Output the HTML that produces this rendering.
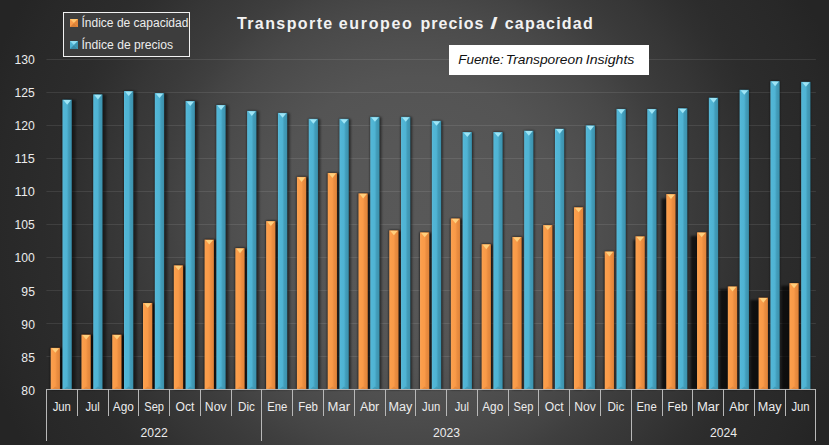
<!DOCTYPE html>
<html lang="es"><head><meta charset="utf-8"><title>Transporte europeo precios / capacidad</title>
<style>
html,body{margin:0;padding:0;background:#262626;}
body{width:829px;height:445px;overflow:hidden;position:relative;font-family:"Liberation Sans",sans-serif;}
#chart{position:absolute;left:0;top:0;width:829px;height:445px;
 background:radial-gradient(circle 450px at 415px 222px, #585858 0.0%, #575757 17.8%, #545454 32.2%, #4f4f4f 40.0%, #494949 47.8%, #444444 52.7%, #3f3f3f 56.7%, #3a3a3a 62.2%, #363636 67.8%, #2f2f2f 75.6%, #2c2c2c 80.0%, #282828 93.3%, #252525 100.0%);}
svg{position:absolute;left:0;top:0;}
svg text{font-family:"Liberation Sans",sans-serif;}
</style></head><body><div id="chart">

<svg width="829" height="445" viewBox="0 0 829 445">
<defs>
<linearGradient id="go" x1="0" x2="1" y1="0" y2="0">
 <stop offset="0" stop-color="#f7a45a"/><stop offset="0.12" stop-color="#fb9e4b"/><stop offset="0.48" stop-color="#f99a48"/><stop offset="0.68" stop-color="#ea8d40"/><stop offset="0.92" stop-color="#e2863b"/><stop offset="1" stop-color="#b86a2c"/>
</linearGradient>
<linearGradient id="gb" x1="0" x2="1" y1="0" y2="0">
 <stop offset="0" stop-color="#5fbddb"/><stop offset="0.12" stop-color="#52b6d6"/><stop offset="0.48" stop-color="#4fb3d3"/><stop offset="0.68" stop-color="#429cb9"/><stop offset="0.92" stop-color="#3d94b0"/><stop offset="1" stop-color="#2f7389"/>
</linearGradient>
<filter id="sh" x="-5%" y="-5%" width="110%" height="110%"><feGaussianBlur stdDeviation="0.9"/></filter>
<filter id="sh2" x="-5%" y="-5%" width="110%" height="110%"><feGaussianBlur stdDeviation="0.8"/></filter>
</defs>
<line x1="46.4" x2="815.9" y1="356.5" y2="356.5" stroke="#ffffff" stroke-opacity="0.095" stroke-width="1"/>
<line x1="46.4" x2="815.9" y1="323.5" y2="323.5" stroke="#ffffff" stroke-opacity="0.095" stroke-width="1"/>
<line x1="46.4" x2="815.9" y1="290.5" y2="290.5" stroke="#ffffff" stroke-opacity="0.095" stroke-width="1"/>
<line x1="46.4" x2="815.9" y1="257.5" y2="257.5" stroke="#ffffff" stroke-opacity="0.095" stroke-width="1"/>
<line x1="46.4" x2="815.9" y1="224.5" y2="224.5" stroke="#ffffff" stroke-opacity="0.095" stroke-width="1"/>
<line x1="46.4" x2="815.9" y1="191.5" y2="191.5" stroke="#ffffff" stroke-opacity="0.095" stroke-width="1"/>
<line x1="46.4" x2="815.9" y1="158.5" y2="158.5" stroke="#ffffff" stroke-opacity="0.095" stroke-width="1"/>
<line x1="46.4" x2="815.9" y1="125.5" y2="125.5" stroke="#ffffff" stroke-opacity="0.095" stroke-width="1"/>
<line x1="46.4" x2="815.9" y1="92.5" y2="92.5" stroke="#ffffff" stroke-opacity="0.095" stroke-width="1"/>
<line x1="46.4" x2="815.9" y1="59.5" y2="59.5" stroke="#ffffff" stroke-opacity="0.095" stroke-width="1"/>
<g filter="url(#sh2)" fill="#000" fill-opacity="0.4">
<rect x="50.35" y="347.32" width="10.00" height="42.08"/>
<rect x="81.13" y="334.12" width="10.00" height="55.28"/>
<rect x="111.91" y="334.12" width="10.00" height="55.28"/>
<rect x="142.69" y="302.44" width="10.00" height="86.96"/>
<rect x="173.47" y="264.82" width="10.00" height="124.58"/>
<rect x="204.25" y="239.08" width="10.00" height="150.32"/>
<rect x="235.03" y="247.66" width="10.00" height="141.74"/>
<rect x="265.81" y="220.60" width="10.00" height="168.80"/>
<rect x="296.59" y="176.38" width="10.00" height="213.02"/>
<rect x="327.37" y="172.42" width="10.00" height="216.98"/>
<rect x="358.15" y="192.88" width="10.00" height="196.52"/>
<rect x="388.93" y="229.84" width="10.00" height="159.56"/>
<rect x="419.71" y="231.82" width="10.00" height="157.58"/>
<rect x="450.49" y="217.96" width="10.00" height="171.44"/>
<rect x="481.27" y="243.70" width="10.00" height="145.70"/>
<rect x="512.05" y="236.44" width="10.00" height="152.96"/>
<rect x="542.83" y="224.56" width="10.00" height="164.84"/>
<rect x="573.61" y="206.74" width="10.00" height="182.66"/>
<rect x="604.39" y="250.96" width="10.00" height="138.44"/>
<rect x="635.17" y="235.78" width="10.00" height="153.62"/>
<rect x="665.95" y="193.54" width="10.00" height="195.86"/>
<rect x="696.73" y="231.82" width="10.00" height="157.58"/>
<rect x="727.51" y="285.94" width="10.00" height="103.46"/>
<rect x="758.29" y="297.16" width="10.00" height="92.24"/>
<rect x="789.07" y="282.64" width="10.00" height="106.76"/>
</g>
<g filter="url(#sh)" fill="#000" fill-opacity="0.68">
<rect x="50.65" y="348.12" width="13.20" height="41.28"/>
<rect x="81.43" y="334.92" width="13.10" height="54.48"/>
<rect x="112.21" y="334.92" width="12.97" height="54.48"/>
<rect x="142.99" y="303.24" width="12.85" height="86.16"/>
<rect x="173.77" y="265.62" width="12.73" height="123.78"/>
<rect x="204.55" y="239.88" width="12.60" height="149.52"/>
<rect x="235.33" y="248.46" width="12.48" height="140.94"/>
<rect x="266.11" y="221.40" width="12.36" height="168.00"/>
<rect x="296.89" y="177.18" width="12.23" height="212.22"/>
<rect x="327.67" y="173.22" width="12.11" height="216.18"/>
<rect x="358.45" y="193.68" width="11.99" height="195.72"/>
<rect x="389.23" y="230.64" width="11.86" height="158.76"/>
<rect x="420.01" y="232.62" width="11.69" height="156.78"/>
<rect x="450.79" y="218.76" width="11.48" height="170.64"/>
<rect x="481.57" y="244.50" width="11.14" height="144.90"/>
<rect x="512.35" y="237.24" width="10.36" height="152.16"/>
<rect x="543.13" y="225.36" width="9.59" height="164.04"/>
<rect x="573.91" y="207.54" width="8.74" height="181.86"/>
<rect x="604.28" y="254.72" width="9.81" height="134.68"/>
<rect x="633.37" y="239.84" width="11.50" height="149.56"/>
<rect x="661.36" y="198.45" width="14.29" height="190.95"/>
<rect x="690.62" y="235.96" width="15.81" height="153.44"/>
<rect x="719.64" y="289.00" width="17.57" height="100.40"/>
<rect x="750.39" y="299.99" width="17.60" height="89.41"/>
<rect x="781.17" y="285.77" width="17.60" height="103.63"/>
</g>
<g filter="url(#sh2)" fill="#000" fill-opacity="0.28">
<rect x="62.15" y="99.16" width="10.00" height="290.24"/>
<rect x="92.93" y="93.88" width="10.00" height="295.52"/>
<rect x="123.71" y="90.58" width="10.00" height="298.82"/>
<rect x="154.49" y="92.56" width="10.00" height="296.84"/>
<rect x="185.27" y="100.48" width="10.00" height="288.92"/>
<rect x="216.05" y="104.44" width="10.00" height="284.96"/>
<rect x="246.83" y="110.38" width="10.00" height="279.02"/>
<rect x="277.61" y="112.36" width="10.00" height="277.04"/>
<rect x="308.39" y="118.30" width="10.00" height="271.10"/>
<rect x="339.17" y="118.30" width="10.00" height="271.10"/>
<rect x="369.95" y="116.32" width="10.00" height="273.08"/>
<rect x="400.73" y="116.32" width="10.00" height="273.08"/>
<rect x="431.51" y="120.28" width="10.00" height="269.12"/>
<rect x="462.29" y="131.50" width="10.00" height="257.90"/>
<rect x="493.07" y="131.50" width="10.00" height="257.90"/>
<rect x="523.85" y="130.18" width="10.00" height="259.22"/>
<rect x="554.63" y="128.20" width="10.00" height="261.20"/>
<rect x="585.41" y="124.90" width="10.00" height="264.50"/>
<rect x="616.19" y="108.40" width="10.00" height="281.00"/>
<rect x="646.97" y="108.40" width="10.00" height="281.00"/>
<rect x="677.75" y="107.74" width="10.00" height="281.66"/>
<rect x="708.53" y="97.18" width="10.00" height="292.22"/>
<rect x="739.31" y="89.26" width="10.00" height="300.14"/>
<rect x="770.09" y="80.68" width="10.00" height="308.72"/>
<rect x="800.87" y="81.34" width="10.00" height="308.06"/>
</g>
<g filter="url(#sh)" fill="#000" fill-opacity="0.42">
<rect x="62.45" y="99.96" width="13.30" height="289.44"/>
<rect x="93.23" y="94.68" width="13.11" height="294.72"/>
<rect x="124.01" y="91.38" width="12.92" height="298.02"/>
<rect x="154.79" y="93.36" width="12.73" height="296.04"/>
<rect x="185.57" y="101.28" width="12.54" height="288.12"/>
<rect x="216.35" y="105.24" width="12.34" height="284.16"/>
<rect x="247.13" y="111.18" width="12.15" height="278.22"/>
<rect x="277.91" y="113.16" width="11.96" height="276.24"/>
<rect x="308.69" y="119.10" width="11.77" height="270.30"/>
<rect x="339.47" y="119.10" width="11.58" height="270.30"/>
<rect x="370.25" y="117.12" width="11.39" height="272.28"/>
<rect x="401.03" y="117.12" width="11.20" height="272.28"/>
<rect x="431.81" y="121.08" width="11.01" height="268.32"/>
<rect x="462.59" y="132.30" width="10.82" height="257.10"/>
<rect x="493.37" y="132.30" width="10.63" height="257.10"/>
<rect x="524.15" y="130.98" width="10.44" height="258.42"/>
<rect x="554.93" y="129.00" width="10.25" height="260.40"/>
<rect x="585.71" y="125.70" width="10.05" height="263.70"/>
<rect x="616.49" y="109.20" width="9.86" height="280.20"/>
<rect x="647.27" y="109.20" width="9.67" height="280.20"/>
<rect x="678.05" y="108.54" width="9.48" height="280.86"/>
<rect x="708.83" y="97.98" width="9.29" height="291.42"/>
<rect x="739.61" y="90.06" width="9.10" height="299.34"/>
<rect x="770.39" y="81.48" width="8.91" height="307.92"/>
<rect x="801.17" y="82.14" width="8.72" height="307.26"/>
</g>
<rect x="50.65" y="347.82" width="9.40" height="41.58" fill="url(#go)"/>
<path d="M51.55 348.22 L59.15 348.22 L55.35 352.82 Z" fill="#ffcf7c"/>
<path d="M51.85 389.40 L58.85 389.40 L55.35 386.60 Z" fill="#d87f36" fill-opacity="0.55"/>
<rect x="62.45" y="99.66" width="9.40" height="289.74" fill="url(#gb)"/>
<path d="M63.35 100.06 L70.95 100.06 L67.15 104.66 Z" fill="#9ee5f6"/>
<path d="M63.65 389.40 L70.65 389.40 L67.15 386.60 Z" fill="#3a8ba6" fill-opacity="0.55"/>
<rect x="81.43" y="334.62" width="9.40" height="54.78" fill="url(#go)"/>
<path d="M82.33 335.02 L89.93 335.02 L86.13 339.62 Z" fill="#ffcf7c"/>
<path d="M82.63 389.40 L89.63 389.40 L86.13 386.60 Z" fill="#d87f36" fill-opacity="0.55"/>
<rect x="93.23" y="94.38" width="9.40" height="295.02" fill="url(#gb)"/>
<path d="M94.13 94.78 L101.73 94.78 L97.93 99.38 Z" fill="#9ee5f6"/>
<path d="M94.43 389.40 L101.43 389.40 L97.93 386.60 Z" fill="#3a8ba6" fill-opacity="0.55"/>
<rect x="112.21" y="334.62" width="9.40" height="54.78" fill="url(#go)"/>
<path d="M113.11 335.02 L120.71 335.02 L116.91 339.62 Z" fill="#ffcf7c"/>
<path d="M113.41 389.40 L120.41 389.40 L116.91 386.60 Z" fill="#d87f36" fill-opacity="0.55"/>
<rect x="124.01" y="91.08" width="9.40" height="298.32" fill="url(#gb)"/>
<path d="M124.91 91.48 L132.51 91.48 L128.71 96.08 Z" fill="#9ee5f6"/>
<path d="M125.21 389.40 L132.21 389.40 L128.71 386.60 Z" fill="#3a8ba6" fill-opacity="0.55"/>
<rect x="142.99" y="302.94" width="9.40" height="86.46" fill="url(#go)"/>
<path d="M143.89 303.34 L151.49 303.34 L147.69 307.94 Z" fill="#ffcf7c"/>
<path d="M144.19 389.40 L151.19 389.40 L147.69 386.60 Z" fill="#d87f36" fill-opacity="0.55"/>
<rect x="154.79" y="93.06" width="9.40" height="296.34" fill="url(#gb)"/>
<path d="M155.69 93.46 L163.29 93.46 L159.49 98.06 Z" fill="#9ee5f6"/>
<path d="M155.99 389.40 L162.99 389.40 L159.49 386.60 Z" fill="#3a8ba6" fill-opacity="0.55"/>
<rect x="173.77" y="265.32" width="9.40" height="124.08" fill="url(#go)"/>
<path d="M174.67 265.72 L182.27 265.72 L178.47 270.32 Z" fill="#ffcf7c"/>
<path d="M174.97 389.40 L181.97 389.40 L178.47 386.60 Z" fill="#d87f36" fill-opacity="0.55"/>
<rect x="185.57" y="100.98" width="9.40" height="288.42" fill="url(#gb)"/>
<path d="M186.47 101.38 L194.07 101.38 L190.27 105.98 Z" fill="#9ee5f6"/>
<path d="M186.77 389.40 L193.77 389.40 L190.27 386.60 Z" fill="#3a8ba6" fill-opacity="0.55"/>
<rect x="204.55" y="239.58" width="9.40" height="149.82" fill="url(#go)"/>
<path d="M205.45 239.98 L213.05 239.98 L209.25 244.58 Z" fill="#ffcf7c"/>
<path d="M205.75 389.40 L212.75 389.40 L209.25 386.60 Z" fill="#d87f36" fill-opacity="0.55"/>
<rect x="216.35" y="104.94" width="9.40" height="284.46" fill="url(#gb)"/>
<path d="M217.25 105.34 L224.85 105.34 L221.05 109.94 Z" fill="#9ee5f6"/>
<path d="M217.55 389.40 L224.55 389.40 L221.05 386.60 Z" fill="#3a8ba6" fill-opacity="0.55"/>
<rect x="235.33" y="248.16" width="9.40" height="141.24" fill="url(#go)"/>
<path d="M236.23 248.56 L243.83 248.56 L240.03 253.16 Z" fill="#ffcf7c"/>
<path d="M236.53 389.40 L243.53 389.40 L240.03 386.60 Z" fill="#d87f36" fill-opacity="0.55"/>
<rect x="247.13" y="110.88" width="9.40" height="278.52" fill="url(#gb)"/>
<path d="M248.03 111.28 L255.63 111.28 L251.83 115.88 Z" fill="#9ee5f6"/>
<path d="M248.33 389.40 L255.33 389.40 L251.83 386.60 Z" fill="#3a8ba6" fill-opacity="0.55"/>
<rect x="266.11" y="221.10" width="9.40" height="168.30" fill="url(#go)"/>
<path d="M267.01 221.50 L274.61 221.50 L270.81 226.10 Z" fill="#ffcf7c"/>
<path d="M267.31 389.40 L274.31 389.40 L270.81 386.60 Z" fill="#d87f36" fill-opacity="0.55"/>
<rect x="277.91" y="112.86" width="9.40" height="276.54" fill="url(#gb)"/>
<path d="M278.81 113.26 L286.41 113.26 L282.61 117.86 Z" fill="#9ee5f6"/>
<path d="M279.11 389.40 L286.11 389.40 L282.61 386.60 Z" fill="#3a8ba6" fill-opacity="0.55"/>
<rect x="296.89" y="176.88" width="9.40" height="212.52" fill="url(#go)"/>
<path d="M297.79 177.28 L305.39 177.28 L301.59 181.88 Z" fill="#ffcf7c"/>
<path d="M298.09 389.40 L305.09 389.40 L301.59 386.60 Z" fill="#d87f36" fill-opacity="0.55"/>
<rect x="308.69" y="118.80" width="9.40" height="270.60" fill="url(#gb)"/>
<path d="M309.59 119.20 L317.19 119.20 L313.39 123.80 Z" fill="#9ee5f6"/>
<path d="M309.89 389.40 L316.89 389.40 L313.39 386.60 Z" fill="#3a8ba6" fill-opacity="0.55"/>
<rect x="327.67" y="172.92" width="9.40" height="216.48" fill="url(#go)"/>
<path d="M328.57 173.32 L336.17 173.32 L332.37 177.92 Z" fill="#ffcf7c"/>
<path d="M328.87 389.40 L335.87 389.40 L332.37 386.60 Z" fill="#d87f36" fill-opacity="0.55"/>
<rect x="339.47" y="118.80" width="9.40" height="270.60" fill="url(#gb)"/>
<path d="M340.37 119.20 L347.97 119.20 L344.17 123.80 Z" fill="#9ee5f6"/>
<path d="M340.67 389.40 L347.67 389.40 L344.17 386.60 Z" fill="#3a8ba6" fill-opacity="0.55"/>
<rect x="358.45" y="193.38" width="9.40" height="196.02" fill="url(#go)"/>
<path d="M359.35 193.78 L366.95 193.78 L363.15 198.38 Z" fill="#ffcf7c"/>
<path d="M359.65 389.40 L366.65 389.40 L363.15 386.60 Z" fill="#d87f36" fill-opacity="0.55"/>
<rect x="370.25" y="116.82" width="9.40" height="272.58" fill="url(#gb)"/>
<path d="M371.15 117.22 L378.75 117.22 L374.95 121.82 Z" fill="#9ee5f6"/>
<path d="M371.45 389.40 L378.45 389.40 L374.95 386.60 Z" fill="#3a8ba6" fill-opacity="0.55"/>
<rect x="389.23" y="230.34" width="9.40" height="159.06" fill="url(#go)"/>
<path d="M390.13 230.74 L397.73 230.74 L393.93 235.34 Z" fill="#ffcf7c"/>
<path d="M390.43 389.40 L397.43 389.40 L393.93 386.60 Z" fill="#d87f36" fill-opacity="0.55"/>
<rect x="401.03" y="116.82" width="9.40" height="272.58" fill="url(#gb)"/>
<path d="M401.93 117.22 L409.53 117.22 L405.73 121.82 Z" fill="#9ee5f6"/>
<path d="M402.23 389.40 L409.23 389.40 L405.73 386.60 Z" fill="#3a8ba6" fill-opacity="0.55"/>
<rect x="420.01" y="232.32" width="9.40" height="157.08" fill="url(#go)"/>
<path d="M420.91 232.72 L428.51 232.72 L424.71 237.32 Z" fill="#ffcf7c"/>
<path d="M421.21 389.40 L428.21 389.40 L424.71 386.60 Z" fill="#d87f36" fill-opacity="0.55"/>
<rect x="431.81" y="120.78" width="9.40" height="268.62" fill="url(#gb)"/>
<path d="M432.71 121.18 L440.31 121.18 L436.51 125.78 Z" fill="#9ee5f6"/>
<path d="M433.01 389.40 L440.01 389.40 L436.51 386.60 Z" fill="#3a8ba6" fill-opacity="0.55"/>
<rect x="450.79" y="218.46" width="9.40" height="170.94" fill="url(#go)"/>
<path d="M451.69 218.86 L459.29 218.86 L455.49 223.46 Z" fill="#ffcf7c"/>
<path d="M451.99 389.40 L458.99 389.40 L455.49 386.60 Z" fill="#d87f36" fill-opacity="0.55"/>
<rect x="462.59" y="132.00" width="9.40" height="257.40" fill="url(#gb)"/>
<path d="M463.49 132.40 L471.09 132.40 L467.29 137.00 Z" fill="#9ee5f6"/>
<path d="M463.79 389.40 L470.79 389.40 L467.29 386.60 Z" fill="#3a8ba6" fill-opacity="0.55"/>
<rect x="481.57" y="244.20" width="9.40" height="145.20" fill="url(#go)"/>
<path d="M482.47 244.60 L490.07 244.60 L486.27 249.20 Z" fill="#ffcf7c"/>
<path d="M482.77 389.40 L489.77 389.40 L486.27 386.60 Z" fill="#d87f36" fill-opacity="0.55"/>
<rect x="493.37" y="132.00" width="9.40" height="257.40" fill="url(#gb)"/>
<path d="M494.27 132.40 L501.87 132.40 L498.07 137.00 Z" fill="#9ee5f6"/>
<path d="M494.57 389.40 L501.57 389.40 L498.07 386.60 Z" fill="#3a8ba6" fill-opacity="0.55"/>
<rect x="512.35" y="236.94" width="9.40" height="152.46" fill="url(#go)"/>
<path d="M513.25 237.34 L520.85 237.34 L517.05 241.94 Z" fill="#ffcf7c"/>
<path d="M513.55 389.40 L520.55 389.40 L517.05 386.60 Z" fill="#d87f36" fill-opacity="0.55"/>
<rect x="524.15" y="130.68" width="9.40" height="258.72" fill="url(#gb)"/>
<path d="M525.05 131.08 L532.65 131.08 L528.85 135.68 Z" fill="#9ee5f6"/>
<path d="M525.35 389.40 L532.35 389.40 L528.85 386.60 Z" fill="#3a8ba6" fill-opacity="0.55"/>
<rect x="543.13" y="225.06" width="9.40" height="164.34" fill="url(#go)"/>
<path d="M544.03 225.46 L551.63 225.46 L547.83 230.06 Z" fill="#ffcf7c"/>
<path d="M544.33 389.40 L551.33 389.40 L547.83 386.60 Z" fill="#d87f36" fill-opacity="0.55"/>
<rect x="554.93" y="128.70" width="9.40" height="260.70" fill="url(#gb)"/>
<path d="M555.83 129.10 L563.43 129.10 L559.63 133.70 Z" fill="#9ee5f6"/>
<path d="M556.13 389.40 L563.13 389.40 L559.63 386.60 Z" fill="#3a8ba6" fill-opacity="0.55"/>
<rect x="573.91" y="207.24" width="9.40" height="182.16" fill="url(#go)"/>
<path d="M574.81 207.64 L582.41 207.64 L578.61 212.24 Z" fill="#ffcf7c"/>
<path d="M575.11 389.40 L582.11 389.40 L578.61 386.60 Z" fill="#d87f36" fill-opacity="0.55"/>
<rect x="585.71" y="125.40" width="9.40" height="264.00" fill="url(#gb)"/>
<path d="M586.61 125.80 L594.21 125.80 L590.41 130.40 Z" fill="#9ee5f6"/>
<path d="M586.91 389.40 L593.91 389.40 L590.41 386.60 Z" fill="#3a8ba6" fill-opacity="0.55"/>
<rect x="604.69" y="251.46" width="9.40" height="137.94" fill="url(#go)"/>
<path d="M605.59 251.86 L613.19 251.86 L609.39 256.46 Z" fill="#ffcf7c"/>
<path d="M605.89 389.40 L612.89 389.40 L609.39 386.60 Z" fill="#d87f36" fill-opacity="0.55"/>
<rect x="616.49" y="108.90" width="9.40" height="280.50" fill="url(#gb)"/>
<path d="M617.39 109.30 L624.99 109.30 L621.19 113.90 Z" fill="#9ee5f6"/>
<path d="M617.69 389.40 L624.69 389.40 L621.19 386.60 Z" fill="#3a8ba6" fill-opacity="0.55"/>
<rect x="635.47" y="236.28" width="9.40" height="153.12" fill="url(#go)"/>
<path d="M636.37 236.68 L643.97 236.68 L640.17 241.28 Z" fill="#ffcf7c"/>
<path d="M636.67 389.40 L643.67 389.40 L640.17 386.60 Z" fill="#d87f36" fill-opacity="0.55"/>
<rect x="647.27" y="108.90" width="9.40" height="280.50" fill="url(#gb)"/>
<path d="M648.17 109.30 L655.77 109.30 L651.97 113.90 Z" fill="#9ee5f6"/>
<path d="M648.47 389.40 L655.47 389.40 L651.97 386.60 Z" fill="#3a8ba6" fill-opacity="0.55"/>
<rect x="666.25" y="194.04" width="9.40" height="195.36" fill="url(#go)"/>
<path d="M667.15 194.44 L674.75 194.44 L670.95 199.04 Z" fill="#ffcf7c"/>
<path d="M667.45 389.40 L674.45 389.40 L670.95 386.60 Z" fill="#d87f36" fill-opacity="0.55"/>
<rect x="678.05" y="108.24" width="9.40" height="281.16" fill="url(#gb)"/>
<path d="M678.95 108.64 L686.55 108.64 L682.75 113.24 Z" fill="#9ee5f6"/>
<path d="M679.25 389.40 L686.25 389.40 L682.75 386.60 Z" fill="#3a8ba6" fill-opacity="0.55"/>
<rect x="697.03" y="232.32" width="9.40" height="157.08" fill="url(#go)"/>
<path d="M697.93 232.72 L705.53 232.72 L701.73 237.32 Z" fill="#ffcf7c"/>
<path d="M698.23 389.40 L705.23 389.40 L701.73 386.60 Z" fill="#d87f36" fill-opacity="0.55"/>
<rect x="708.83" y="97.68" width="9.40" height="291.72" fill="url(#gb)"/>
<path d="M709.73 98.08 L717.33 98.08 L713.53 102.68 Z" fill="#9ee5f6"/>
<path d="M710.03 389.40 L717.03 389.40 L713.53 386.60 Z" fill="#3a8ba6" fill-opacity="0.55"/>
<rect x="727.81" y="286.44" width="9.40" height="102.96" fill="url(#go)"/>
<path d="M728.71 286.84 L736.31 286.84 L732.51 291.44 Z" fill="#ffcf7c"/>
<path d="M729.01 389.40 L736.01 389.40 L732.51 386.60 Z" fill="#d87f36" fill-opacity="0.55"/>
<rect x="739.61" y="89.76" width="9.40" height="299.64" fill="url(#gb)"/>
<path d="M740.51 90.16 L748.11 90.16 L744.31 94.76 Z" fill="#9ee5f6"/>
<path d="M740.81 389.40 L747.81 389.40 L744.31 386.60 Z" fill="#3a8ba6" fill-opacity="0.55"/>
<rect x="758.59" y="297.66" width="9.40" height="91.74" fill="url(#go)"/>
<path d="M759.49 298.06 L767.09 298.06 L763.29 302.66 Z" fill="#ffcf7c"/>
<path d="M759.79 389.40 L766.79 389.40 L763.29 386.60 Z" fill="#d87f36" fill-opacity="0.55"/>
<rect x="770.39" y="81.18" width="9.40" height="308.22" fill="url(#gb)"/>
<path d="M771.29 81.58 L778.89 81.58 L775.09 86.18 Z" fill="#9ee5f6"/>
<path d="M771.59 389.40 L778.59 389.40 L775.09 386.60 Z" fill="#3a8ba6" fill-opacity="0.55"/>
<rect x="789.37" y="283.14" width="9.40" height="106.26" fill="url(#go)"/>
<path d="M790.27 283.54 L797.87 283.54 L794.07 288.14 Z" fill="#ffcf7c"/>
<path d="M790.57 389.40 L797.57 389.40 L794.07 386.60 Z" fill="#d87f36" fill-opacity="0.55"/>
<rect x="801.17" y="81.84" width="9.40" height="307.56" fill="url(#gb)"/>
<path d="M802.07 82.24 L809.67 82.24 L805.87 86.84 Z" fill="#9ee5f6"/>
<path d="M802.37 389.40 L809.37 389.40 L805.87 386.60 Z" fill="#3a8ba6" fill-opacity="0.55"/>
<line x1="46" x2="816" y1="389.5" y2="389.5" stroke="#bcbcbc" stroke-opacity="0.9" stroke-width="1"/>
<line x1="46.5" x2="46.5" y1="389" y2="441" stroke="#b8b8b8" stroke-width="1"/>
<line x1="77.5" x2="77.5" y1="389" y2="416" stroke="#b8b8b8" stroke-width="1"/>
<line x1="108.5" x2="108.5" y1="389" y2="416" stroke="#b8b8b8" stroke-width="1"/>
<line x1="138.5" x2="138.5" y1="389" y2="416" stroke="#b8b8b8" stroke-width="1"/>
<line x1="169.5" x2="169.5" y1="389" y2="416" stroke="#b8b8b8" stroke-width="1"/>
<line x1="200.5" x2="200.5" y1="389" y2="416" stroke="#b8b8b8" stroke-width="1"/>
<line x1="231.5" x2="231.5" y1="389" y2="416" stroke="#b8b8b8" stroke-width="1"/>
<line x1="261.5" x2="261.5" y1="389" y2="441" stroke="#b8b8b8" stroke-width="1"/>
<line x1="292.5" x2="292.5" y1="389" y2="416" stroke="#b8b8b8" stroke-width="1"/>
<line x1="323.5" x2="323.5" y1="389" y2="416" stroke="#b8b8b8" stroke-width="1"/>
<line x1="354.5" x2="354.5" y1="389" y2="416" stroke="#b8b8b8" stroke-width="1"/>
<line x1="385.5" x2="385.5" y1="389" y2="416" stroke="#b8b8b8" stroke-width="1"/>
<line x1="415.5" x2="415.5" y1="389" y2="416" stroke="#b8b8b8" stroke-width="1"/>
<line x1="446.5" x2="446.5" y1="389" y2="416" stroke="#b8b8b8" stroke-width="1"/>
<line x1="477.5" x2="477.5" y1="389" y2="416" stroke="#b8b8b8" stroke-width="1"/>
<line x1="508.5" x2="508.5" y1="389" y2="416" stroke="#b8b8b8" stroke-width="1"/>
<line x1="538.5" x2="538.5" y1="389" y2="416" stroke="#b8b8b8" stroke-width="1"/>
<line x1="569.5" x2="569.5" y1="389" y2="416" stroke="#b8b8b8" stroke-width="1"/>
<line x1="600.5" x2="600.5" y1="389" y2="416" stroke="#b8b8b8" stroke-width="1"/>
<line x1="631.5" x2="631.5" y1="389" y2="441" stroke="#b8b8b8" stroke-width="1"/>
<line x1="662.5" x2="662.5" y1="389" y2="416" stroke="#b8b8b8" stroke-width="1"/>
<line x1="692.5" x2="692.5" y1="389" y2="416" stroke="#b8b8b8" stroke-width="1"/>
<line x1="723.5" x2="723.5" y1="389" y2="416" stroke="#b8b8b8" stroke-width="1"/>
<line x1="754.5" x2="754.5" y1="389" y2="416" stroke="#b8b8b8" stroke-width="1"/>
<line x1="785.5" x2="785.5" y1="389" y2="416" stroke="#b8b8b8" stroke-width="1"/>
<line x1="815.5" x2="815.5" y1="389" y2="441" stroke="#b8b8b8" stroke-width="1"/>
<text x="52.66" y="410.6" font-size="12" fill="#ececec" textLength="18.25" lengthAdjust="spacingAndGlyphs">Jun</text>
<text x="85.42" y="410.6" font-size="12" fill="#ececec" textLength="14.31" lengthAdjust="spacingAndGlyphs">Jul</text>
<text x="112.84" y="410.6" font-size="12" fill="#ececec" textLength="21.03" lengthAdjust="spacingAndGlyphs">Ago</text>
<text x="144.25" y="410.6" font-size="12" fill="#ececec" textLength="19.76" lengthAdjust="spacingAndGlyphs">Sep</text>
<text x="175.44" y="410.6" font-size="12" fill="#ececec" textLength="18.93" lengthAdjust="spacingAndGlyphs">Oct</text>
<text x="204.86" y="410.6" font-size="12" fill="#ececec" textLength="21.67" lengthAdjust="spacingAndGlyphs">Nov</text>
<text x="238.02" y="410.6" font-size="12" fill="#ececec" textLength="16.89" lengthAdjust="spacingAndGlyphs">Dic</text>
<text x="267.18" y="410.6" font-size="12" fill="#ececec" textLength="20.15" lengthAdjust="spacingAndGlyphs">Ene</text>
<text x="298.15" y="410.6" font-size="12" fill="#ececec" textLength="19.76" lengthAdjust="spacingAndGlyphs">Feb</text>
<text x="327.59" y="410.6" font-size="12" fill="#ececec" textLength="22.44" lengthAdjust="spacingAndGlyphs">Mar</text>
<text x="359.90" y="410.6" font-size="12" fill="#ececec" textLength="19.37" lengthAdjust="spacingAndGlyphs">Abr</text>
<text x="388.46" y="410.6" font-size="12" fill="#ececec" textLength="23.83" lengthAdjust="spacingAndGlyphs">May</text>
<text x="422.02" y="410.6" font-size="12" fill="#ececec" textLength="18.25" lengthAdjust="spacingAndGlyphs">Jun</text>
<text x="454.78" y="410.6" font-size="12" fill="#ececec" textLength="14.31" lengthAdjust="spacingAndGlyphs">Jul</text>
<text x="482.20" y="410.6" font-size="12" fill="#ececec" textLength="21.03" lengthAdjust="spacingAndGlyphs">Ago</text>
<text x="513.61" y="410.6" font-size="12" fill="#ececec" textLength="19.76" lengthAdjust="spacingAndGlyphs">Sep</text>
<text x="544.80" y="410.6" font-size="12" fill="#ececec" textLength="18.93" lengthAdjust="spacingAndGlyphs">Oct</text>
<text x="574.22" y="410.6" font-size="12" fill="#ececec" textLength="21.67" lengthAdjust="spacingAndGlyphs">Nov</text>
<text x="607.38" y="410.6" font-size="12" fill="#ececec" textLength="16.89" lengthAdjust="spacingAndGlyphs">Dic</text>
<text x="636.54" y="410.6" font-size="12" fill="#ececec" textLength="20.15" lengthAdjust="spacingAndGlyphs">Ene</text>
<text x="667.51" y="410.6" font-size="12" fill="#ececec" textLength="19.76" lengthAdjust="spacingAndGlyphs">Feb</text>
<text x="696.95" y="410.6" font-size="12" fill="#ececec" textLength="22.44" lengthAdjust="spacingAndGlyphs">Mar</text>
<text x="729.26" y="410.6" font-size="12" fill="#ececec" textLength="19.37" lengthAdjust="spacingAndGlyphs">Abr</text>
<text x="757.82" y="410.6" font-size="12" fill="#ececec" textLength="23.83" lengthAdjust="spacingAndGlyphs">May</text>
<text x="791.38" y="410.6" font-size="12" fill="#ececec" textLength="18.25" lengthAdjust="spacingAndGlyphs">Jun</text>
<text x="140.61" y="436.7" font-size="12" fill="#ececec" textLength="27.04" lengthAdjust="spacingAndGlyphs">2022</text>
<text x="433.02" y="436.7" font-size="12" fill="#ececec" textLength="27.04" lengthAdjust="spacingAndGlyphs">2023</text>
<text x="710.04" y="436.7" font-size="12" fill="#ececec" textLength="27.04" lengthAdjust="spacingAndGlyphs">2024</text>
<text x="21.38" y="394.9" font-size="12" fill="#ececec" textLength="13.52" lengthAdjust="spacingAndGlyphs">80</text>
<text x="21.38" y="361.8" font-size="12" fill="#ececec" textLength="13.52" lengthAdjust="spacingAndGlyphs">85</text>
<text x="21.38" y="328.6" font-size="12" fill="#ececec" textLength="13.52" lengthAdjust="spacingAndGlyphs">90</text>
<text x="21.38" y="295.5" font-size="12" fill="#ececec" textLength="13.52" lengthAdjust="spacingAndGlyphs">95</text>
<text x="14.62" y="262.3" font-size="12" fill="#ececec" textLength="20.28" lengthAdjust="spacingAndGlyphs">100</text>
<text x="14.62" y="229.2" font-size="12" fill="#ececec" textLength="20.28" lengthAdjust="spacingAndGlyphs">105</text>
<text x="14.62" y="196.1" font-size="12" fill="#ececec" textLength="20.28" lengthAdjust="spacingAndGlyphs">110</text>
<text x="14.62" y="162.9" font-size="12" fill="#ececec" textLength="20.28" lengthAdjust="spacingAndGlyphs">115</text>
<text x="14.62" y="129.8" font-size="12" fill="#ececec" textLength="20.28" lengthAdjust="spacingAndGlyphs">120</text>
<text x="14.62" y="96.6" font-size="12" fill="#ececec" textLength="20.28" lengthAdjust="spacingAndGlyphs">125</text>
<text x="14.62" y="63.5" font-size="12" fill="#ececec" textLength="20.28" lengthAdjust="spacingAndGlyphs">130</text>
<text y="28.7" font-size="16" font-weight="bold" fill="#f2f2f2"><tspan x="236.9" letter-spacing="1.41">Transporte</tspan> <tspan x="338.7" letter-spacing="1.68">europeo</tspan> <tspan x="420.5" letter-spacing="1.0">precios</tspan> <tspan x="490.2" textLength="7.4" lengthAdjust="spacingAndGlyphs">/</tspan> <tspan x="504.7" letter-spacing="1.22">capacidad</tspan></text>
<rect x="63.5" y="12.5" width="126" height="44" fill="#3d3d3d" stroke="#f2f2f2" stroke-width="1"/>
<rect x="70" y="19" width="8" height="8" fill="#f99a48"/><path d="M70 19 L78 19 L74 23 Z" fill="#ffc56e"/><path d="M70 27 L78 27 L74 23 Z" fill="#d87f36"/><path d="M78 19 L78 27 L74 23 Z" fill="#e2863b"/>
<rect x="70" y="41" width="8" height="8" fill="#4fb3d3"/><path d="M70 41 L78 41 L74 45 Z" fill="#8edcf0"/><path d="M70 49 L78 49 L74 45 Z" fill="#3a8ba6"/><path d="M78 41 L78 49 L74 45 Z" fill="#3d94b0"/>
<text x="81.5" y="27.2" font-size="12" fill="#ececec" textLength="106.85" lengthAdjust="spacingAndGlyphs">Índice de capacidad</text>
<text x="81.5" y="49.2" font-size="12" fill="#ececec" textLength="91.58" lengthAdjust="spacingAndGlyphs">Índice de precios</text>
<rect x="449" y="45" width="200" height="30" fill="#ffffff"/>
<text y="63.8" font-size="13.3" font-style="italic" fill="#111"><tspan x="458.2" textLength="45.6" lengthAdjust="spacingAndGlyphs">Fuente:</tspan> <tspan x="505.8" textLength="77" lengthAdjust="spacingAndGlyphs">Transporeon</tspan> <tspan x="585.8" textLength="48.6" lengthAdjust="spacingAndGlyphs">Insights</tspan></text>
</svg></div></body></html>
